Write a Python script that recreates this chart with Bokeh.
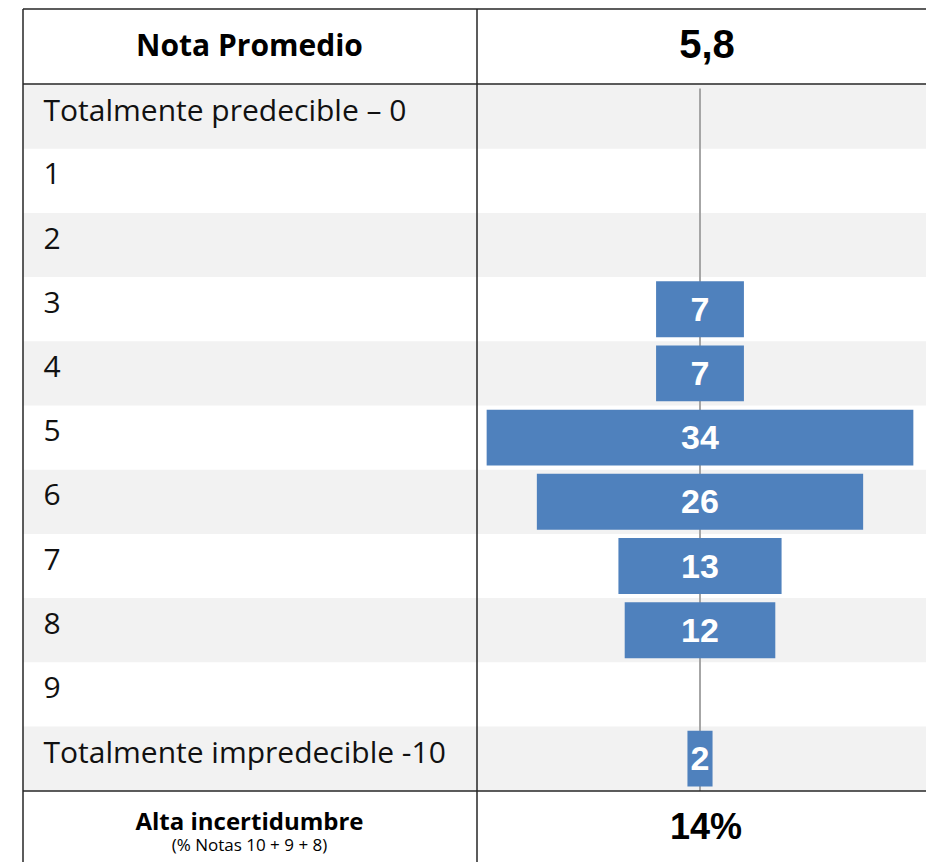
from bokeh.plotting import figure
from bokeh.models import Range1d, ColumnDataSource
from bokeh.core.properties import value
from bokeh.embed import file_html
from bokeh.resources import INLINE

# ---- data ----
row_labels = ["Totalmente predecible – 0", "1", "2", "3", "4", "5", "6", "7", "8", "9",
              "Totalmente impredecible -10"]
percentages = [0, 0, 0, 7, 7, 34, 26, 13, 12, 0, 2]
header_label = "Nota Promedio"
header_value = "5,8"
footer_label = "Alta incertidumbre"
footer_note = "(% Notas 10 + 9 + 8)"
footer_value = "14%"

# ---- layout (pixels) ----
W, H = 926, 862
PX_PER_UNIT = 12.55          # bar scale: pixels per percentage point
CENTER_X = 699.5             # pixel x of bar axis
ROW_TOP = 84.0               # pixel y of first row top
ROW_H = 64.2
LEFT_X = 22.5
MID_X = 476.5
TOP_LINE = 8.5
HEADER_LINE = 83.5
FOOTER_LINE = 790.5

BLUE = "#4f81bd"
BAND = "#f2f2f2"
LINE = "#262626"

p = figure(width=W, height=H, output_backend="svg", toolbar_location=None,
           x_range=Range1d(0, W), y_range=Range1d(H, 0),
           min_border=0, outline_line_color=None,
           x_axis_location=None, y_axis_location=None)
p.grid.visible = False
p.background_fill_color = "white"
p.border_fill_color = "white"

# value scale for bars and row scale
p.extra_x_ranges = {"vals": Range1d(-CENTER_X / PX_PER_UNIT, (W - CENTER_X) / PX_PER_UNIT)}
first_center = ROW_TOP + ROW_H / 2
p.extra_y_ranges = {"rows": Range1d((H - first_center) / ROW_H, -first_center / ROW_H)}

n = len(row_labels)
rows = list(range(n))

# alternating row bands
band_rows = [i for i in rows if i % 2 == 0]
p.hbar(y=band_rows, left=LEFT_X, right=W, height=1.0, y_range_name="rows",
       fill_color=BAND, line_color=None)

# center reference line
p.segment(x0=[0], y0=[88], x1=[0], y1=[FOOTER_LINE], x_range_name="vals",
          line_color="#a6a6a6", line_width=2)

# bars
src = ColumnDataSource(dict(
    y=[i for i in rows if percentages[i] > 0],
    left=[-percentages[i] / 2 for i in rows if percentages[i] > 0],
    right=[percentages[i] / 2 for i in rows if percentages[i] > 0],
    lbl=[str(percentages[i]) for i in rows if percentages[i] > 0],
))
p.hbar(y="y", left="left", right="right", height=0.87, source=src,
       x_range_name="vals", y_range_name="rows", fill_color=BLUE, line_color=None)
p.text(x=0, y="y", text="lbl", source=src, x_range_name="vals", y_range_name="rows",
       text_color="white", text_font=value("Liberation Sans"), text_font_style="bold",
       text_font_size="34px", text_align="center", text_baseline="middle")

# row labels
p.text(x=[43] * n, y=rows, text=row_labels, y_range_name="rows", y_offset=-7,
       text_color="#111111", text_font=value("Open Sans"), text_font_size="30px",
       text_align="left", text_baseline="middle")

# table lines
p.segment(x0=[LEFT_X, LEFT_X, LEFT_X, LEFT_X, MID_X],
          y0=[TOP_LINE, HEADER_LINE, FOOTER_LINE, TOP_LINE, TOP_LINE],
          x1=[W, W, W, LEFT_X, MID_X], y1=[TOP_LINE, HEADER_LINE, FOOTER_LINE, H, H],
          line_color=LINE, line_width=1.5)

# header / footer texts
p.text(x=[249], y=[44], text=[header_label], text_color="black",
       text_font=value("Open Sans"), text_font_style="bold", text_font_size="30px",
       text_align="center", text_baseline="middle")
p.text(x=[706.5], y=[43], text=[header_value], text_color="black",
       text_font=value("Liberation Sans"), text_font_style="bold", text_font_size="40px",
       text_align="center", text_baseline="middle")
p.text(x=[249], y=[820], text=[footer_label], text_color="black",
       text_font=value("Open Sans"), text_font_style="bold", text_font_size="24px",
       text_align="center", text_baseline="middle")
p.text(x=[249], y=[844], text=[footer_note], text_color="black",
       text_font=value("Open Sans"), text_font_size="17px",
       text_align="center", text_baseline="middle")
p.text(x=[705.5], y=[826], text=[footer_value], text_color="black",
       text_font=value("Liberation Sans"), text_font_style="bold", text_font_size="36px",
       text_align="center", text_baseline="middle")

open("out.html", "w").write(file_html(p, INLINE))
